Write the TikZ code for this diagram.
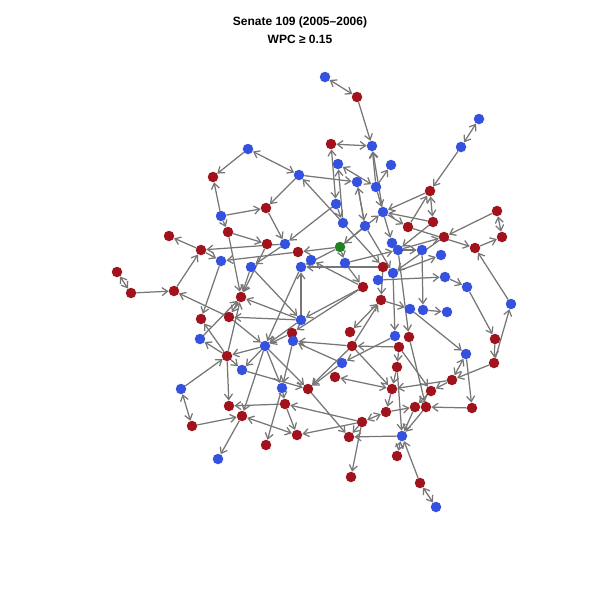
\documentclass[tikz,border=0pt]{standalone}
\usepackage{fontspec}
\setmainfont{Liberation Sans}
\usetikzlibrary{arrows.meta}
\definecolor{rcol}{RGB}{160,18,28}
\definecolor{bcol}{RGB}{52,82,222}
\definecolor{gcol}{RGB}{30,130,30}
\definecolor{ecol}{RGB}{118,118,118}
\pgfdeclarelayer{bg}
\pgfsetlayers{bg,main}
\tikzset{
  v/.style={circle, inner sep=0pt, minimum size=10.5pt, draw=none},
  rn/.style={v, fill=rcol},
  bn/.style={v, fill=bcol},
  gn/.style={v, fill=gcol},
  e/.style={draw=ecol, line width=1.25pt, -{Straight Barb[length=5.5pt,width=8pt]}},
  ee/.style={draw=ecol, line width=1.25pt, {Straight Barb[length=5.5pt,width=8pt]}-{Straight Barb[length=5.5pt,width=8pt]}},
  ttl/.style={font=\bfseries\fontsize{12}{14}\selectfont, anchor=base}
}
\begin{document}
\begin{tikzpicture}[x=1pt,y=-1pt]
\useasboundingbox (0,0) rectangle (600,600);
\node[ttl] (t1) at (300,25) {Senate 109 (2005–2006)};
\node[ttl] (t2) at (300,43) {WPC ≥ 0.15};
% nodes
\node[bn] (a1) at (325,77) {};
\node[rn] (a2) at (357,97) {};
\node[rn] (a3) at (331,144) {};
\node[bn] (a4) at (372,146) {};
\node[bn] (a5) at (248,149) {};
\node[bn] (a6) at (338,164) {};
\node[bn] (a7) at (299,175) {};
\node[bn] (a8) at (357,182) {};
\node[bn] (a9) at (376,187) {};
\node[rn] (a10) at (213,177) {};
\node[rn] (a11) at (266,208) {};
\node[bn] (a12) at (221,216) {};
\node[bn] (a13) at (336,204) {};
\node[bn] (a14) at (383,212) {};
\node[bn] (a15) at (391,165) {};
\node[bn] (a16) at (479,119) {};
\node[bn] (a17) at (461,147) {};
\node[rn] (a18) at (430,191) {};
\node[rn] (a19) at (433,222) {};
\node[rn] (a20) at (497,211) {};
\node[rn] (a21) at (408,227) {};
\node[rn] (a22) at (444,237) {};
\node[rn] (a23) at (502,237) {};
\node[rn] (a24) at (475,248) {};
\node[bn] (a25) at (343,223) {};
\node[bn] (a26) at (365,226) {};
\node[gn] (a27) at (340,247) {};
\node[rn] (a28) at (228,232) {};
\node[rn] (a29) at (169,236) {};
\node[rn] (a30) at (201,250) {};
\node[bn] (a31) at (221,261) {};
\node[rn] (a32) at (267,244) {};
\node[bn] (a33) at (285,244) {};
\node[rn] (a34) at (298,252) {};
\node[bn] (a35) at (311,260) {};
\node[bn] (a36) at (301,267) {};
\node[bn] (a37) at (345,263) {};
\node[bn] (a38) at (251,267) {};
\node[bn] (a39) at (392,243) {};
\node[bn] (a40) at (398,250) {};
\node[bn] (a41) at (422,250) {};
\node[bn] (a42) at (441,255) {};
\node[rn] (a43) at (383,267) {};
\node[bn] (a44) at (393,273) {};
\node[bn] (a45) at (378,280) {};
\node[bn] (a46) at (445,277) {};
\node[rn] (a47) at (363,287) {};
\node[rn] (a48) at (381,300) {};
\node[bn] (a49) at (467,287) {};
\node[bn] (a50) at (511,304) {};
\node[bn] (a51) at (410,309) {};
\node[bn] (a52) at (423,310) {};
\node[bn] (a53) at (447,312) {};
\node[rn] (a54) at (117,272) {};
\node[rn] (a55) at (131,293) {};
\node[rn] (a56) at (174,291) {};
\node[rn] (a57) at (241,297) {};
\node[rn] (a58) at (201,319) {};
\node[rn] (a59) at (229,317) {};
\node[bn] (a60) at (301,320) {};
\node[rn] (a61) at (292,333) {};
\node[bn] (a62) at (293,341) {};
\node[rn] (a63) at (350,332) {};
\node[bn] (a64) at (395,336) {};
\node[rn] (a65) at (409,337) {};
\node[rn] (a66) at (399,347) {};
\node[rn] (a67) at (495,339) {};
\node[bn] (a68) at (200,339) {};
\node[bn] (a69) at (265,346) {};
\node[rn] (a70) at (352,346) {};
\node[rn] (a71) at (227,356) {};
\node[bn] (a72) at (342,363) {};
\node[bn] (a73) at (466,354) {};
\node[rn] (a74) at (397,367) {};
\node[rn] (a75) at (494,363) {};
\node[bn] (a76) at (242,370) {};
\node[rn] (a77) at (335,377) {};
\node[bn] (a78) at (282,388) {};
\node[rn] (a79) at (308,389) {};
\node[rn] (a80) at (452,380) {};
\node[rn] (a81) at (392,389) {};
\node[rn] (a82) at (431,391) {};
\node[bn] (a83) at (181,389) {};
\node[rn] (a84) at (285,404) {};
\node[rn] (a85) at (229,406) {};
\node[rn] (a86) at (386,412) {};
\node[rn] (a87) at (415,407) {};
\node[rn] (a88) at (426,407) {};
\node[rn] (a89) at (472,408) {};
\node[rn] (a90) at (242,416) {};
\node[rn] (a91) at (192,426) {};
\node[rn] (a92) at (362,422) {};
\node[rn] (a93) at (297,435) {};
\node[rn] (a94) at (349,437) {};
\node[rn] (a95) at (266,445) {};
\node[bn] (a96) at (402,436) {};
\node[rn] (a97) at (397,456) {};
\node[bn] (a98) at (218,459) {};
\node[rn] (a99) at (351,477) {};
\node[rn] (a100) at (420,483) {};
\node[bn] (a101) at (436,507) {};
\begin{pgfonlayer}{bg}
% mutual edges
\foreach \s/\t in {a1/a2,a3/a4,a3/a13,a6/a9,a5/a7,a16/a17,a18/a19,a20/a23,a73/a80,a96/a97,a100/a101,a54/a55,a83/a91,a90/a93,a77/a81,a86/a92,a48/a63}
  \draw[ee] (\s) -- (\t);
% directed edges
\foreach \s/\t in {a2/a4,a25/a6,a9/a4,a14/a4,a7/a8,a7/a11,a12/a11,a25/a7,a26/a8,a9/a14,a17/a18,a18/a14,a19/a14,a21/a18,a9/a15,a20/a22,a24/a23,a50/a24,a21/a24,a14/a21,a19/a40,a41/a52,a40/a41,a44/a42,a45/a46,a46/a49,a49/a67,a67/a75,a75/a50,a52/a53,a51/a73,a75/a80,a73/a89,a89/a88,a80/a82,a80/a81,a86/a87,a87/a96,a88/a96,a96/a94,a100/a96,a81/a86,a74/a96,a74/a81}
  \draw[e] (\s) -- (\t);
\foreach \s/\t in {a5/a10,a12/a10,a12/a28,a28/a57,a30/a29,a33/a30,a28/a32,a30/a31,a56/a30,a55/a56,a59/a56,a31/a58,a71/a57,a68/a57,a71/a58,a71/a68,a83/a71,a71/a76,a71/a85,a91/a90,a84/a85,a90/a98,a76/a79,a72/a79,a79/a94,a92/a84,a92/a93,a92/a94,a92/a99,a78/a84,a84/a93,a78/a95}
  \draw[e] (\s) -- (\t);
\foreach \s/\t in {a60/a36,a38/a60,a60/a69,a47/a60,a60/a59,a36/a69,a66/a70,a64/a72,a70/a79,a70/a81,a70/a48,a70/a62,a72/a62,a47/a61,a61/a69,a59/a69,a69/a76,a69/a71,a69/a78,a69/a90,a57/a59,a32/a57,a62/a78,a69/a79,a38/a57,a11/a33,a13/a33,a27/a34,a34/a31,a47/a35,a27/a36,a37/a47,a27/a37,a25/a43,a22/a44,a48/a51,a13/a25,a26/a27,a14/a39,a43/a36,a40/a22,a44/a64,a40/a65,a66/a74,a66/a82,a82/a87,a65/a88,a43/a48,a8/a26,a27/a14,a26/a44,a37/a40,a33/a38,a60/a57}
  \draw[e] (\s) -- (\t);
\end{pgfonlayer}
\end{tikzpicture}
\end{document}
